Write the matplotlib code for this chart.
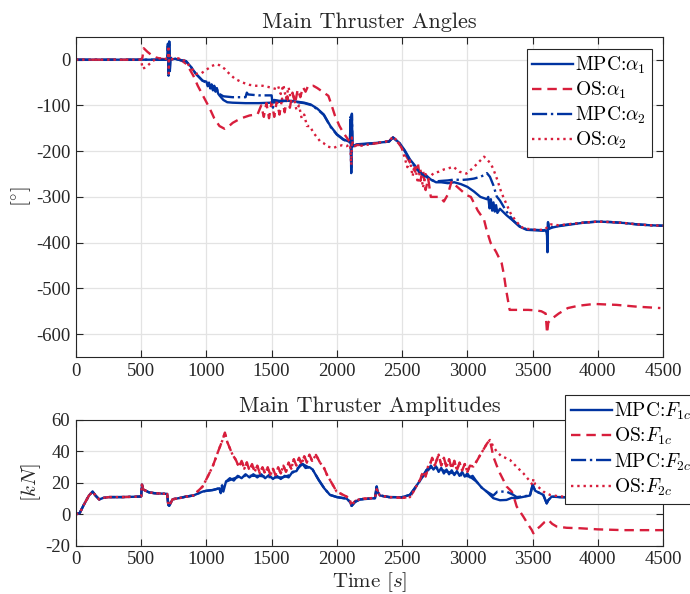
import matplotlib
matplotlib.use("Agg")
import matplotlib.pyplot as plt

# ── Colours ──────────────────────────────────────────────────────────────────
BLUE = "#0033a0"
RED = "#d81e3c"

# ── Data: main thruster angles [deg] ─────────────────────────────────────────
t_mpc_a1 = [0, 690, 700, 705, 710, 715, 720, 725, 730, 760, 800, 843, 880, 920, 971,
            1000, 1010, 1020, 1030, 1040, 1050, 1060, 1070, 1080, 1090, 1100, 1130, 1160,
            1200, 1300, 1400, 1500, 1560, 1600, 1650, 1700, 1750, 1800, 1850, 1900, 1950,
            2000, 2050, 2100, 2105, 2110, 2115, 2120, 2150, 2200, 2300, 2400, 2430, 2480,
            2520, 2560, 2600, 2620, 2640, 2660, 2680, 2720, 2760, 2800, 2850, 2900, 2950,
            3000, 3050, 3100, 3150, 3160, 3170, 3180, 3190, 3200, 3210, 3220, 3230, 3250,
            3300, 3350, 3400, 3455, 3520, 3583, 3600, 3610, 3614, 3618, 3625, 3650, 3700,
            3800, 3900, 4000, 4100, 4200, 4300, 4400, 4500]
a_mpc_a1 = [0, 0, 0, 30, -30, 40, -20, 5, 0, 2, -1, -3, -15, -31, -46,
            -48, -58, -50, -63, -54, -67, -57, -70, -62, -74, -78, -88, -93,
            -94, -95, -95, -94, -92, -90, -90, -92, -94, -98, -107, -120, -145,
            -163, -174, -180, -130, -248, -120, -190, -185, -184, -182, -179, -170, -182,
            -198, -218, -232, -240, -245, -252, -252, -262, -268, -268, -270, -268, -272,
            -278, -288, -300, -305, -300, -325, -305, -330, -312, -332, -318, -335, -326,
            -340, -352, -365, -372, -373, -374, -373, -380, -421, -355, -370, -367, -364,
            -360, -356, -354, -355, -357, -360, -362, -363]

t_mpc_a2 = [0, 690, 700, 705, 710, 715, 720, 725, 730, 760, 800, 843, 880, 920, 971,
            1000, 1010, 1020, 1030, 1040, 1050, 1060, 1070, 1080, 1090, 1100, 1130,
            1200, 1300, 1310, 1320, 1400, 1500, 1510, 1520, 1560, 1600, 1650, 1700, 1750,
            1800, 1850, 1900, 1950, 2000, 2050, 2100, 2105, 2110, 2115, 2120, 2150, 2200,
            2300, 2400, 2430, 2480, 2520, 2560, 2600, 2640, 2680, 2720, 2760, 2800, 2850,
            2900, 2950, 3000, 3050, 3100, 3123, 3150, 3173, 3200, 3225, 3250, 3300, 3353,
            3400, 3455, 3520, 3583, 3600, 3610, 3614, 3618, 3625, 3650, 3700, 3800, 3900,
            4000, 4100, 4200, 4300, 4400, 4500]
a_mpc_a2 = [0, 0, 0, 35, -35, 42, -25, 5, 0, 2, -1, -3, -15, -31, -46,
            -50, -56, -52, -61, -55, -65, -58, -68, -64, -72, -75, -80,
            -82, -82, -72, -76, -78, -78, -105, -88, -90, -90, -91, -93, -95,
            -99, -108, -121, -146, -164, -175, -181, -125, -245, -118, -192, -186, -185,
            -182, -179, -170, -183, -200, -220, -235, -248, -255, -263, -266, -265, -264,
            -262, -263, -262, -260, -256, -253, -248, -256, -275, -299, -308, -332, -352,
            -364, -371, -372, -373, -372, -378, -415, -358, -369, -366, -363, -359, -356,
            -354, -355, -357, -360, -362, -363]

t_os_a1 = [0, 500, 510, 520, 549, 580, 613, 650, 690, 705, 710, 720, 766, 800, 850,
           900, 934, 980, 1023, 1060, 1100, 1139, 1170, 1202, 1240, 1278, 1330, 1393,
           1420, 1440, 1460, 1480, 1500, 1520, 1540, 1560, 1580, 1600, 1620, 1640, 1660,
           1680, 1700, 1720, 1740, 1760, 1780, 1800, 1819, 1850, 1880, 1910, 1935, 1960,
           1986, 2020, 2050, 2080, 2100, 2110, 2140, 2200, 2300, 2400, 2430, 2480, 2520,
           2560, 2580, 2600, 2620, 2640, 2660, 2680, 2700, 2720, 2750, 2790, 2820, 2850,
           2880, 2910, 2950, 2993, 3027, 3080, 3128, 3150, 3179, 3220, 3263, 3280, 3297,
           3324, 3400, 3466, 3520, 3567, 3600, 3611, 3620, 3635, 3700, 3770, 3850, 3973,
           4050, 4141, 4300, 4479]
a_os_a1 = [0, 0, 5, 25, 17, 10, 5, 2, 1, 0, -10, 0, 3, 0, -10,
           -35, -57, -82, -105, -128, -145, -151, -146, -138, -132, -127, -122, -119,
           -100, -125, -95, -128, -92, -125, -90, -120, -85, -115, -80, -105, -72,
           -95, -65, -82, -60, -70, -57, -58, -57, -62, -68, -74, -79, -100,
           -123, -145, -160, -172, -180, -185, -187, -186, -183, -178, -170, -185, -205,
           -225, -235, -245, -225, -265, -240, -285, -260, -300, -300, -300, -310, -295,
           -265, -275, -285, -296, -300, -330, -350, -375, -401, -420, -445, -470, -503,
           -547, -547, -547, -548, -550, -555, -598, -575, -569, -555, -543, -538, -534,
           -535, -536, -540, -543]

t_os_a2 = [0, 500, 511, 530, 549, 580, 613, 650, 690, 705, 710, 712, 715, 720, 766,
           818, 869, 920, 960, 1000, 1040, 1074, 1100, 1140, 1180, 1220, 1278, 1330,
           1380, 1431, 1480, 1533, 1550, 1570, 1590, 1610, 1630, 1650, 1670, 1690, 1710,
           1730, 1750, 1770, 1794, 1820, 1850, 1870, 1896, 1930, 1973, 2000, 2040, 2075,
           2100, 2105, 2110, 2115, 2125, 2150, 2200, 2250, 2300, 2350, 2400, 2430, 2470,
           2500, 2520, 2540, 2560, 2580, 2600, 2620, 2640, 2660, 2680, 2700, 2740, 2780,
           2820, 2850, 2892, 2940, 2993, 3030, 3077, 3128, 3150, 3179, 3200, 3230, 3260,
           3297, 3330, 3365, 3400, 3432, 3533, 3583, 3600, 3614, 3640, 3700, 3800, 3900,
           4000, 4100, 4200, 4300, 4400, 4500]
a_os_a2 = [0, 0, -20, -17, -13, -5, 2, 3, 2, 0, 30, -30, 10, 0, 4,
           1, -13, -31, -30, -22, -14, -10, -12, -20, -32, -42, -50, -55,
           -57, -57, -60, -64, -58, -75, -55, -85, -60, -92, -80, -110, -100,
           -128, -120, -145, -145, -160, -170, -178, -182, -190, -193, -190, -187, -189,
           -185, -200, -230, -170, -190, -188, -188, -185, -182, -180, -178, -168, -180,
           -195, -215, -235, -220, -255, -230, -270, -240, -280, -250, -262, -248, -245,
           -240, -238, -234, -245, -249, -240, -227, -212, -218, -227, -240, -263, -290,
           -314, -335, -350, -362, -369, -372, -372, -370, -365, -360, -362, -359, -356,
           -354, -355, -357, -360, -362, -363]

# ── Data: main thruster amplitudes [kN] ──────────────────────────────────────
t_amp_start = [0, 30, 60, 100, 128, 150, 179, 210, 255, 350, 485, 500, 506, 515, 524,
               560, 600, 700, 708, 715, 741, 800, 843, 900]
f_amp_start = [0, 1, 6, 12, 14.5, 12, 9.5, 10.5, 11, 11, 11.3, 11.5, 19, 16, 15.5,
               14, 13.5, 13, 6, 5.5, 9.6, 10.5, 11.3, 12]

t_mpc_f1 = t_amp_start + [
    971, 1000, 1050, 1099, 1110, 1120, 1130, 1150, 1180, 1210, 1240, 1270, 1300, 1330,
    1360, 1390, 1420, 1450, 1480, 1510, 1540, 1570, 1600, 1630, 1660, 1690, 1720, 1737,
    1760, 1790, 1814, 1860, 1903, 1947, 2000, 2075, 2100, 2113, 2140, 2177, 2292, 2305,
    2315, 2330, 2400, 2496, 2560, 2600, 2650, 2688, 2700, 2720, 2740, 2760, 2780, 2800,
    2820, 2840, 2860, 2880, 2900, 2920, 2940, 2960, 2980, 3000, 3020, 3040, 3071, 3110,
    3148, 3199, 3250, 3300, 3340, 3378, 3480, 3500, 3520, 3582, 3608, 3620, 3646, 3700,
    3800, 4000, 4500]
f_mpc_f1 = f_amp_start + [
    14.5, 15, 15.5, 16.6, 13.5, 18, 14.5, 20.8, 23, 21.5, 24.5, 23, 25.5, 23.5,
    25.5, 23.5, 25.5, 23, 25, 22.5, 24.5, 22.5, 24.5, 23.5, 27, 27.5, 31.5, 32,
    29.5, 30, 28.5, 22, 16.6, 12.4, 11, 10, 8, 5.4, 8, 9.5, 10.3, 17.7,
    14, 12, 11, 10.9, 12.4, 17, 23, 28.3, 28, 31, 28.5, 30.5, 27, 29.5,
    26, 28.5, 25.5, 28, 25, 27.5, 24.5, 27, 24, 26, 23.5, 24.5, 20.8, 17,
    14.5, 10.3, 9, 9.2, 10.5, 10.3, 12, 18.7, 15, 12.4, 7, 9, 11.3, 11,
    10.8, 10.6, 10.5]

t_mpc_f2 = t_amp_start + [
    971, 1000, 1050, 1099, 1150, 1200, 1252, 1300, 1405, 1500, 1584, 1640, 1686, 1737,
    1770, 1814, 1860, 1903, 1947, 2000, 2075, 2100, 2113, 2140, 2177, 2292, 2305, 2315,
    2330, 2400, 2496, 2560, 2600, 2650, 2688, 2739, 2765, 2841, 2950, 3020, 3071, 3110,
    3148, 3199, 3230, 3300, 3350, 3378, 3480, 3500, 3520, 3582, 3608, 3620, 3646, 3700,
    3800, 4000, 4500]
f_mpc_f2 = f_amp_start + [
    14.5, 15, 15.5, 16.6, 20.8, 22.5, 24, 24.5, 24.5, 23.5, 23.5, 25, 28.3, 32,
    30.5, 28.5, 22, 16.6, 12.4, 11, 10, 8, 5.4, 8, 9.5, 10.3, 17.7, 14,
    12, 11, 10.9, 12.4, 17, 23, 28.3, 30.4, 29.3, 27.2, 25, 24, 20.8, 17,
    14.5, 12, 14.5, 14.5, 12.5, 11, 12, 18.7, 15, 12.4, 7, 9, 11.3, 11,
    10.8, 10.6, 10.5]

t_os_mid = [
    971, 1010, 1048, 1090, 1124, 1142, 1160, 1175, 1200, 1226, 1250, 1270, 1290, 1310,
    1330, 1350, 1370, 1390, 1410, 1430, 1450, 1470, 1490, 1510, 1530, 1550, 1570, 1590,
    1610, 1630, 1650, 1670, 1690, 1710, 1730, 1750, 1770, 1790, 1810, 1840, 1870, 1903,
    1930, 1947, 1998, 2075, 2100, 2113, 2140, 2177, 2292, 2305, 2330, 2400, 2500, 2560,
    2586, 2610, 2637, 2660, 2680, 2700, 2713, 2730, 2750, 2765, 2780, 2800, 2820, 2840,
    2860, 2880, 2900, 2920, 2940, 2960, 2980, 3000, 3020, 3046, 3080, 3100, 3122, 3150,
    3173]
f_os_mid = [
    17.7, 24, 30.4, 40, 47.3, 52, 46, 43, 38, 34.6, 30, 34, 29, 33,
    28, 32, 27, 31, 26, 30, 26, 30, 25, 29, 25, 30, 26, 31,
    27, 33, 29, 35, 31, 36, 32, 37, 33, 38, 34, 37.8, 33, 29.3,
    24, 21.9, 14.5, 11.3, 9, 6, 8.5, 9.8, 10.5, 16, 12, 11, 10.5, 11,
    14.5, 18, 21.9, 27, 24, 31, 31.4, 36, 31, 34.6, 38, 31, 36, 30,
    35, 29, 34, 28, 33, 28, 32, 27, 31, 30.4, 35, 38, 41, 45,
    47.3]

t_os_f1 = t_amp_start + t_os_mid + [
    3199, 3225, 3250, 3275, 3301, 3340, 3360, 3378, 3429, 3470, 3493, 3506, 3530, 3557,
    3590, 3620, 3650, 3684, 3760, 3863, 4000, 4200, 4500]
f_os_f1 = f_amp_start + f_os_mid + [
    36.7, 31, 26.1, 22, 17.7, 14.5, 10, 5, -1.4, -7, -9.8, -12, -9.5, -7.7,
    -5, -3.5, -6, -7.7, -8.5, -8.8, -9.5, -10, -10]

t_os_f2 = t_amp_start + t_os_mid + [
    3200, 3225, 3260, 3290, 3327, 3380, 3429, 3470, 3500, 3506, 3520, 3550, 3582, 3633,
    3700, 3800, 4000, 4500]
f_os_f2 = f_amp_start + f_os_mid + [
    43, 39.9, 37, 36, 34.6, 30, 26.1, 22, 18.7, 22.5, 19, 17, 14.5, 12.4,
    11.5, 11, 10.8, 10.8]

x_ticks = [0, 500, 1000, 1500, 2000, 2500, 3000, 3500, 4000, 4500]
angle_ticks = [0, -100, -200, -300, -400, -500, -600]
amp_ticks = [-20, 0, 20, 40, 60]

# ── Style ────────────────────────────────────────────────────────────────────
plt.rcParams["font.family"] = "serif"
plt.rcParams["font.serif"] = ["Liberation Serif"]
plt.rcParams["mathtext.fontset"] = "cm"
plt.rcParams["axes.unicode_minus"] = False
plt.rcParams["font.size"] = 13

INK = "#262626"
CM = {"family": "cmr10"}


def style_axes(ax):
    ax.grid(True, color="#e3e3e3", linewidth=0.9)
    ax.set_axisbelow(True)
    ax.tick_params(direction="in", top=True, right=True, length=5, width=0.8,
                   colors=INK, labelsize=13.5, pad=4)
    for sp in ax.spines.values():
        sp.set_color(INK)
        sp.set_linewidth(0.8)
    ax.set_xlim(0, 4500)
    ax.set_xticks(x_ticks)


def add_legend(owner, handles, labels, anchor, loc):
    leg = owner.legend(handles, labels, loc=loc, bbox_to_anchor=anchor,
                       prop={"family": "cmr10", "size": 14},
                       handlelength=2.1, handletextpad=0.1, borderpad=0.3,
                       labelspacing=0.2, borderaxespad=0, fancybox=False,
                       edgecolor=INK, framealpha=1)
    leg.get_frame().set_linewidth(0.8)
    return leg


fig = plt.figure(figsize=(6.9, 5.94), dpi=100)

# ── Top: angles ──────────────────────────────────────────────────────────────
ax1 = fig.add_axes([0.110, 0.399, 0.851, 0.539])
ax1.plot(t_mpc_a1, a_mpc_a1, color=BLUE, lw=1.7, ls="-", label=r"MPC:$\alpha_1$")
ax1.plot(t_os_a1, a_os_a1, color=RED, lw=1.7, ls=(0, (4, 2.5)), label=r"OS:$\alpha_1$")
ax1.plot(t_mpc_a2, a_mpc_a2, color=BLUE, lw=1.7, ls="-.", label=r"MPC:$\alpha_2$")
ax1.plot(t_os_a2, a_os_a2, color=RED, lw=1.7, ls=":", label=r"OS:$\alpha_2$")
style_axes(ax1)
ax1.set_ylim(-650, 50)
ax1.set_yticks(angle_ticks)
ax1.set_ylabel(r"[$^{\circ}$]", color=INK, fontdict={**CM, "size": 15}, labelpad=2)
ax1.set_title("Main Thruster Angles", color=INK, fontdict={**CM, "size": 16}, pad=6)
add_legend(ax1, *ax1.get_legend_handles_labels(), anchor=(0.981, 0.963),
           loc="upper right")

# ── Bottom: amplitudes ───────────────────────────────────────────────────────
ax2 = fig.add_axes([0.110, 0.081, 0.851, 0.212])
ax2.plot(t_mpc_f1, f_mpc_f1, color=BLUE, lw=1.7, ls="-", label=r"MPC:$F_{1c}$")
ax2.plot(t_os_f1, f_os_f1, color=RED, lw=1.7, ls=(0, (4, 2.5)), label=r"OS:$F_{1c}$")
ax2.plot(t_mpc_f2, f_mpc_f2, color=BLUE, lw=1.7, ls="-.", label=r"MPC:$F_{2c}$")
ax2.plot(t_os_f2, f_os_f2, color=RED, lw=1.7, ls=":", label=r"OS:$F_{2c}$")
style_axes(ax2)
ax2.set_ylim(-20, 60)
ax2.set_yticks(amp_ticks)
ax2.set_ylabel(r"[$kN$]", color=INK, fontdict={**CM, "size": 15}, labelpad=2)
ax2.set_xlabel(r"Time [$s$]", color=INK, fontdict={**CM, "size": 15}, labelpad=1)
ax2.set_title("Main Thruster Amplitudes", color=INK, fontdict={**CM, "size": 16}, pad=6)
add_legend(fig, *ax2.get_legend_handles_labels(), anchor=(0.819, 0.335),
           loc="upper left")

fig.savefig("out.png", dpi=100, facecolor="white")
